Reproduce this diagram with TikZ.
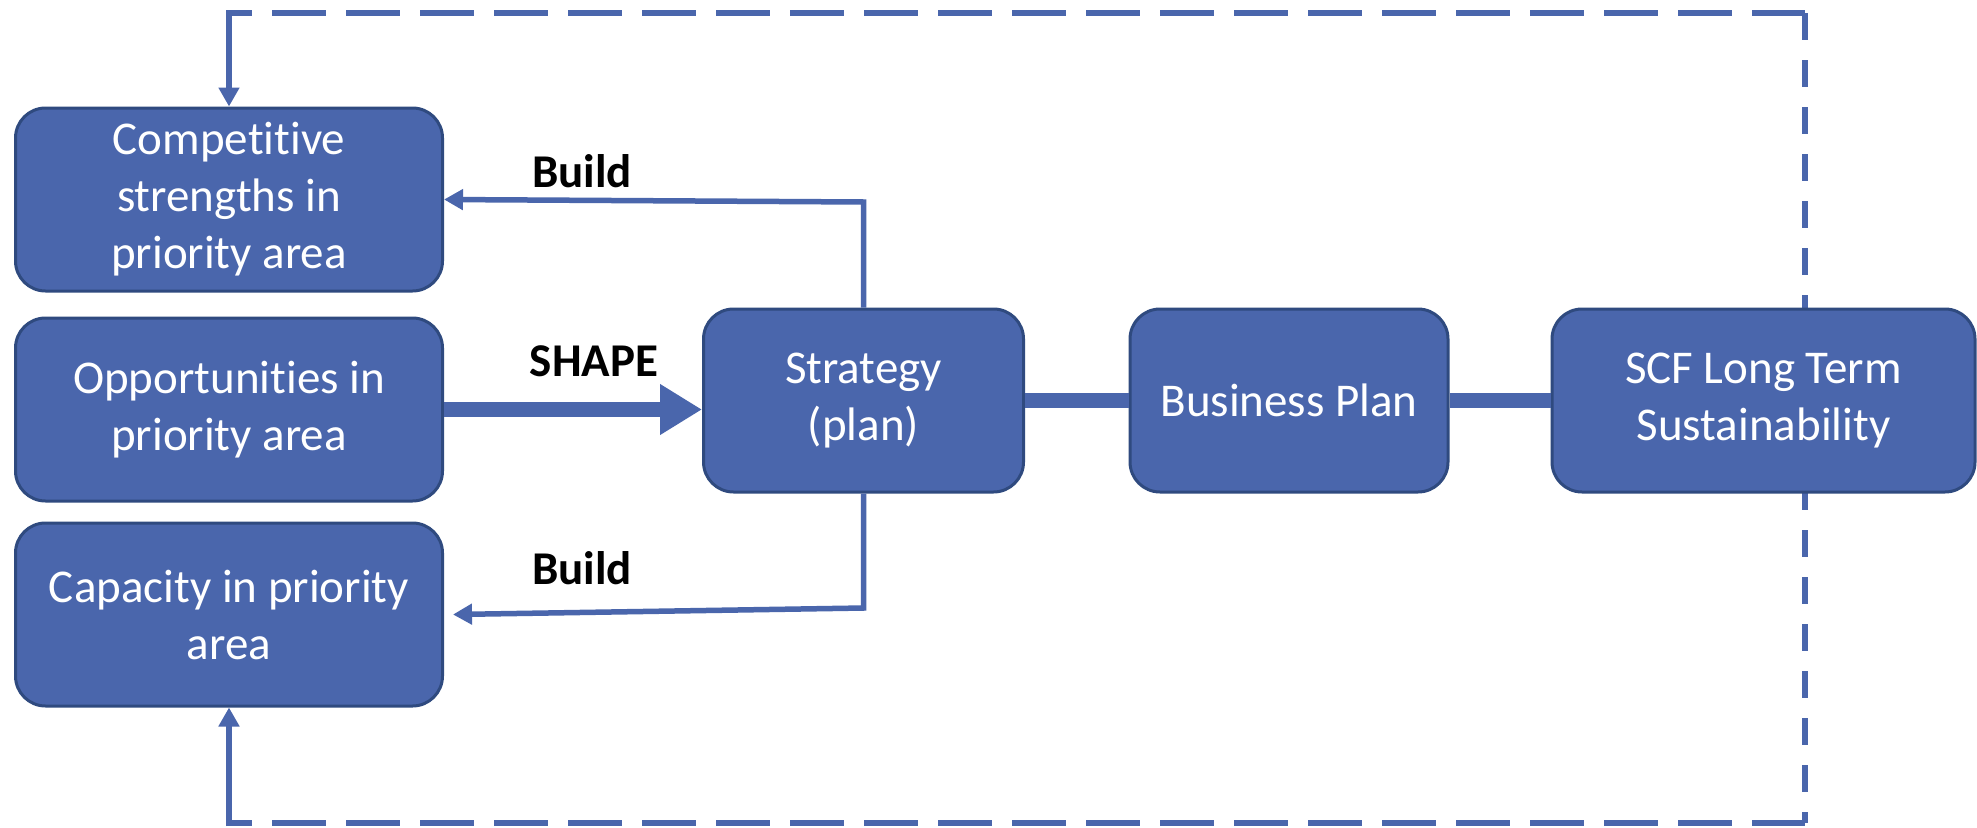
\documentclass[tikz,border=0pt]{standalone}
\usepackage{fontspec}
\setmainfont{Carlito}[RawFeature={-liga}]
\usetikzlibrary{arrows.meta,backgrounds}
\definecolor{boxfill}{HTML}{4A66AC}
\definecolor{boxline}{HTML}{2F4A7F}
\definecolor{link}{HTML}{4A66AC}
\tikzset{
  stage/.style={draw=boxline, line width=3pt, fill=boxfill, rounded corners=30pt,
    minimum height=183pt, inner sep=0pt, align=center, text=white,
    font=\fontsize{47}{57}\selectfont},
  tag/.style={font=\fontsize{47}{57}\selectfont\bfseries, text=black, inner sep=0pt},
  thinlink/.style={draw=link, line width=5.5pt, -{Triangle[length=19pt,width=20pt]}},
  thicklink/.style={draw=link, line width=15pt},
  loopdash/.style={draw=link, line width=6pt},
  longdash/.style={dash pattern=on 54pt off 20pt, dash phase=31pt},
  shortdash/.style={dash pattern=on 27pt off 20pt},
}
\begin{document}
\begin{tikzpicture}[x=1pt, y=-1pt]
  \useasboundingbox (0,0) rectangle (1977,827);

  % stages
  \node[stage, minimum width=427pt] (comp)  at (229,199.5)    {Competitive\\strengths in\\priority area};
  \node[stage, minimum width=427pt] (opp)   at (229,409.5)    {Opportunities in\\priority area};
  \node[stage, minimum width=427pt] (cap)   at (229,614.5)    {Capacity in priority\\area};
  \node[stage, minimum width=320pt] (strat) at (863.5,400.5)  {Strategy\\(plan)};
  \node[stage, minimum width=318pt] (biz)   at (1289,400.5)   {Business Plan};
  \node[stage, minimum width=423pt] (scf)   at (1763.5,400.5) {SCF Long Term\\Sustainability};

  % arrow labels
  \node[tag] (buildtop) at (582,171) {Build};
  \node[tag] (shape)    at (594,361) {SHAPE};
  \node[tag] (buildbot) at (582,568) {Build};

  % corners of the feedback loop and bends of the build arrows
  \coordinate (tl) at (229,13);
  \coordinate (tr) at (1805,13);
  \coordinate (br) at (1805,823);
  \coordinate (bl) at (229,823);
  \coordinate (bendup)   at (863.5,202);
  \coordinate (benddown) at (863.5,608);

  % page and feedback loop, behind the stages
  \begin{scope}[on background layer]
    \fill[white] (0,0) rectangle (1977,827);
    \draw[loopdash, longdash]  (tl) -- (tr);
    \draw[loopdash, shortdash] (tr) -- (br);
    \draw[loopdash, longdash]  (bl) -- (br);
  \end{scope}
  \draw[thinlink] ([yshift=3pt]tl) -- (comp.north);
  \draw[thinlink] ([yshift=-3pt]bl) -- (cap.south);

  % main flow
  \draw[thicklink, -{Triangle[length=42pt,width=48pt]}] (opp.east) -- (opp.east -| strat.west);
  \draw[thicklink] (strat.east) -- (biz.west);
  \draw[thicklink] (biz.east) -- (scf.west);

  % build arrows
  \draw[thinlink] (strat.north) -- (bendup) -- (comp.east);
  \draw[thinlink] (strat.south) -- (benddown) -- ([xshift=9pt]cap.east);
\end{tikzpicture}
\end{document}
